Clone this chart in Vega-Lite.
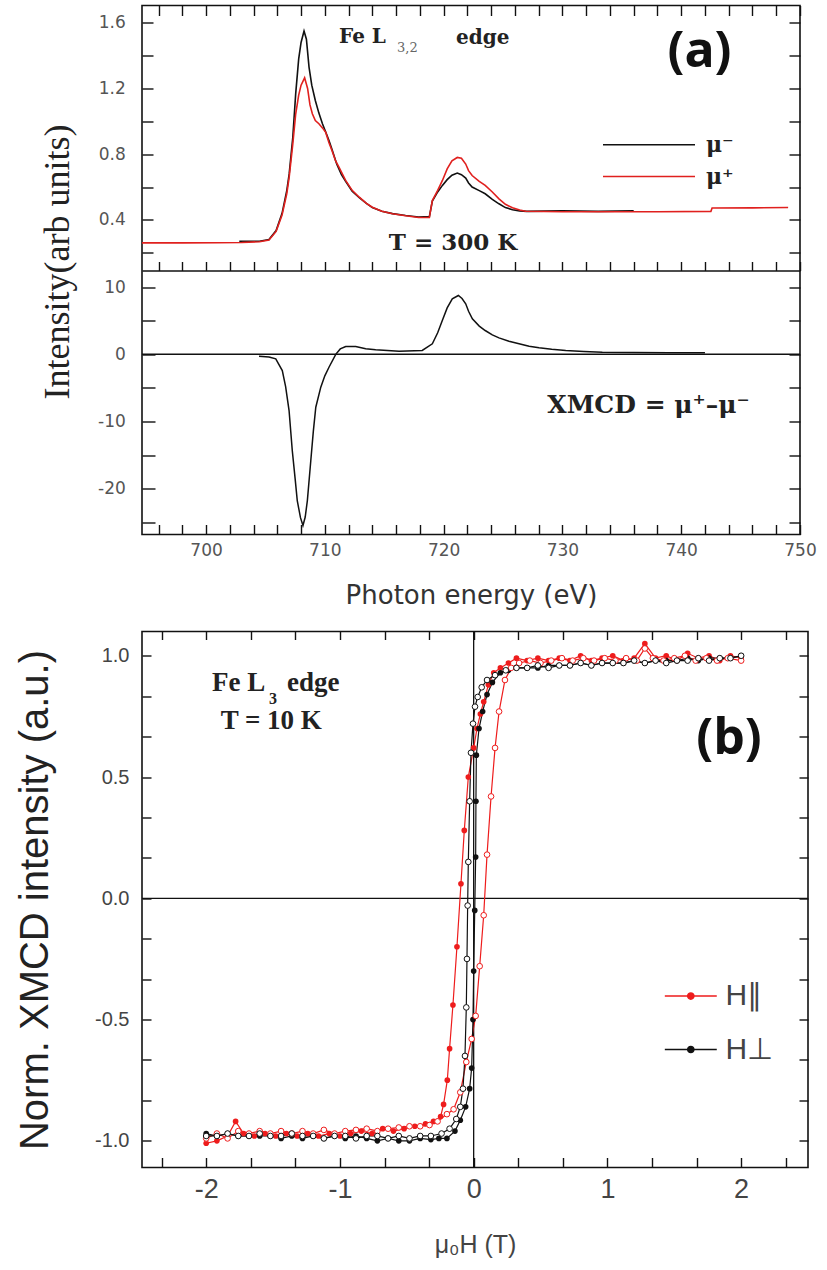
{
  "$schema": "https://vega.github.io/schema/vega-lite/v6.json",
  "background": "white",
  "padding": {"left": 14, "top": 3.5, "right": 2, "bottom": 2},
  "bounds": "flush",
  "spacing": 97,
  "resolve": {"scale": {"color": "independent"}, "legend": {"color": "independent"}},
  "datasets": {
    "spec": [
      {"E": 702.8, "I": 0.27, "s": "μ⁻"}, {"E": 704.5, "I": 0.27, "s": "μ⁻"}, {"E": 705.3, "I": 0.28, "s": "μ⁻"},
      {"E": 705.9, "I": 0.335, "s": "μ⁻"}, {"E": 706.4, "I": 0.44, "s": "μ⁻"}, {"E": 706.8, "I": 0.58, "s": "μ⁻"},
      {"E": 707.0, "I": 0.68, "s": "μ⁻"}, {"E": 707.3, "I": 0.9, "s": "μ⁻"}, {"E": 707.55, "I": 1.17, "s": "μ⁻"},
      {"E": 707.8, "I": 1.38, "s": "μ⁻"}, {"E": 708.0, "I": 1.48, "s": "μ⁻"}, {"E": 708.25, "I": 1.55, "s": "μ⁻"},
      {"E": 708.45, "I": 1.5, "s": "μ⁻"}, {"E": 708.67, "I": 1.33, "s": "μ⁻"}, {"E": 708.9, "I": 1.22, "s": "μ⁻"},
      {"E": 709.2, "I": 1.127, "s": "μ⁻"}, {"E": 709.5, "I": 1.05, "s": "μ⁻"}, {"E": 709.8, "I": 0.985, "s": "μ⁻"},
      {"E": 710.1, "I": 0.93, "s": "μ⁻"}, {"E": 710.35, "I": 0.883, "s": "μ⁻"}, {"E": 710.6, "I": 0.83, "s": "μ⁻"},
      {"E": 711.0, "I": 0.74, "s": "μ⁻"}, {"E": 711.4, "I": 0.675, "s": "μ⁻"}, {"E": 711.75, "I": 0.635, "s": "μ⁻"},
      {"E": 712.3, "I": 0.575, "s": "μ⁻"}, {"E": 712.9, "I": 0.535, "s": "μ⁻"}, {"E": 713.5, "I": 0.5, "s": "μ⁻"},
      {"E": 714.0, "I": 0.475, "s": "μ⁻"}, {"E": 714.8, "I": 0.452, "s": "μ⁻"}, {"E": 715.7, "I": 0.438, "s": "μ⁻"},
      {"E": 716.8, "I": 0.427, "s": "μ⁻"}, {"E": 717.9, "I": 0.418, "s": "μ⁻"}, {"E": 718.8, "I": 0.42, "s": "μ⁻"},
      {"E": 719.05, "I": 0.515, "s": "μ⁻"}, {"E": 719.5, "I": 0.57, "s": "μ⁻"}, {"E": 719.9, "I": 0.61, "s": "μ⁻"},
      {"E": 720.3, "I": 0.645, "s": "μ⁻"}, {"E": 720.7, "I": 0.672, "s": "μ⁻"}, {"E": 721.15, "I": 0.685, "s": "μ⁻"},
      {"E": 721.5, "I": 0.675, "s": "μ⁻"}, {"E": 721.86, "I": 0.655, "s": "μ⁻"}, {"E": 722.1, "I": 0.625, "s": "μ⁻"},
      {"E": 722.4, "I": 0.6, "s": "μ⁻"}, {"E": 723.0, "I": 0.578, "s": "μ⁻"}, {"E": 723.5, "I": 0.559, "s": "μ⁻"},
      {"E": 724.1, "I": 0.525, "s": "μ⁻"}, {"E": 724.66, "I": 0.498, "s": "μ⁻"}, {"E": 725.2, "I": 0.475, "s": "μ⁻"},
      {"E": 725.8, "I": 0.462, "s": "μ⁻"}, {"E": 726.4, "I": 0.455, "s": "μ⁻"}, {"E": 727.0, "I": 0.452, "s": "μ⁻"},
      {"E": 730.0, "I": 0.455, "s": "μ⁻"}, {"E": 733.0, "I": 0.452, "s": "μ⁻"}, {"E": 736.0, "I": 0.455, "s": "μ⁻"},
      {"E": 694.61, "I": 0.26, "s": "μ⁺"}, {"E": 698.0, "I": 0.26, "s": "μ⁺"}, {"E": 701.0, "I": 0.261, "s": "μ⁺"},
      {"E": 703.0, "I": 0.262, "s": "μ⁺"}, {"E": 704.5, "I": 0.267, "s": "μ⁺"}, {"E": 705.3, "I": 0.277, "s": "μ⁺"},
      {"E": 705.9, "I": 0.33, "s": "μ⁺"}, {"E": 706.4, "I": 0.43, "s": "μ⁺"}, {"E": 706.8, "I": 0.56, "s": "μ⁺"},
      {"E": 707.0, "I": 0.66, "s": "μ⁺"}, {"E": 707.3, "I": 0.86, "s": "μ⁺"}, {"E": 707.55, "I": 1.046, "s": "μ⁺"},
      {"E": 707.8, "I": 1.16, "s": "μ⁺"}, {"E": 708.0, "I": 1.22, "s": "μ⁺"}, {"E": 708.3, "I": 1.265, "s": "μ⁺"},
      {"E": 708.55, "I": 1.2, "s": "μ⁺"}, {"E": 708.75, "I": 1.1, "s": "μ⁺"}, {"E": 708.95, "I": 1.046, "s": "μ⁺"},
      {"E": 709.2, "I": 1.005, "s": "μ⁺"}, {"E": 709.5, "I": 0.985, "s": "μ⁺"}, {"E": 709.8, "I": 0.96, "s": "μ⁺"},
      {"E": 710.07, "I": 0.934, "s": "μ⁺"}, {"E": 710.35, "I": 0.87, "s": "μ⁺"}, {"E": 710.6, "I": 0.822, "s": "μ⁺"},
      {"E": 710.9, "I": 0.76, "s": "μ⁺"}, {"E": 711.2, "I": 0.72, "s": "μ⁺"}, {"E": 711.75, "I": 0.64, "s": "μ⁺"},
      {"E": 712.3, "I": 0.58, "s": "μ⁺"}, {"E": 712.9, "I": 0.538, "s": "μ⁺"}, {"E": 713.5, "I": 0.5, "s": "μ⁺"},
      {"E": 714.0, "I": 0.477, "s": "μ⁺"}, {"E": 714.8, "I": 0.452, "s": "μ⁺"}, {"E": 715.7, "I": 0.437, "s": "μ⁺"},
      {"E": 716.8, "I": 0.425, "s": "μ⁺"}, {"E": 717.9, "I": 0.415, "s": "μ⁺"}, {"E": 718.8, "I": 0.415, "s": "μ⁺"},
      {"E": 719.05, "I": 0.518, "s": "μ⁺"}, {"E": 719.5, "I": 0.58, "s": "μ⁺"}, {"E": 719.9, "I": 0.64, "s": "μ⁺"},
      {"E": 720.3, "I": 0.71, "s": "μ⁺"}, {"E": 720.7, "I": 0.76, "s": "μ⁺"}, {"E": 721.15, "I": 0.78, "s": "μ⁺"},
      {"E": 721.5, "I": 0.775, "s": "μ⁺"}, {"E": 721.86, "I": 0.74, "s": "μ⁺"}, {"E": 722.1, "I": 0.7, "s": "μ⁺"},
      {"E": 722.4, "I": 0.67, "s": "μ⁺"}, {"E": 723.0, "I": 0.635, "s": "μ⁺"}, {"E": 723.5, "I": 0.61, "s": "μ⁺"},
      {"E": 724.1, "I": 0.57, "s": "μ⁺"}, {"E": 724.66, "I": 0.528, "s": "μ⁺"}, {"E": 725.2, "I": 0.495, "s": "μ⁺"},
      {"E": 725.8, "I": 0.474, "s": "μ⁺"}, {"E": 726.4, "I": 0.46, "s": "μ⁺"}, {"E": 726.9, "I": 0.453, "s": "μ⁺"},
      {"E": 730.0, "I": 0.45, "s": "μ⁺"}, {"E": 734.0, "I": 0.45, "s": "μ⁺"}, {"E": 738.0, "I": 0.45, "s": "μ⁺"},
      {"E": 742.5, "I": 0.452, "s": "μ⁺"}, {"E": 742.6, "I": 0.472, "s": "μ⁺"}, {"E": 746.0, "I": 0.473, "s": "μ⁺"},
      {"E": 749.0, "I": 0.475, "s": "μ⁺"}
    ],
    "xmcd": [
      {"E": 704.46, "X": -0.28}, {"E": 705.3, "X": -0.4}, {"E": 705.87, "X": -0.67}, {"E": 706.42, "X": -2.41},
      {"E": 706.7, "X": -4.8}, {"E": 706.99, "X": -8.36}, {"E": 707.26, "X": -14.31}, {"E": 707.5, "X": -18.5},
      {"E": 707.68, "X": -21.75}, {"E": 707.95, "X": -24.3}, {"E": 708.16, "X": -25.47}, {"E": 708.35, "X": -24.2},
      {"E": 708.53, "X": -21.75}, {"E": 708.82, "X": -15.8}, {"E": 709.03, "X": -11.5}, {"E": 709.24, "X": -7.87},
      {"E": 709.66, "X": -4.89}, {"E": 710.0, "X": -3.2}, {"E": 710.35, "X": -1.92}, {"E": 710.92, "X": 0.0},
      {"E": 711.3, "X": 0.8}, {"E": 711.76, "X": 1.16}, {"E": 712.6, "X": 1.16}, {"E": 713.44, "X": 0.82},
      {"E": 714.28, "X": 0.67}, {"E": 716.25, "X": 0.46}, {"E": 718.2, "X": 0.57}, {"E": 719.05, "X": 1.56},
      {"E": 719.5, "X": 3.2}, {"E": 719.89, "X": 5.03}, {"E": 720.3, "X": 6.9}, {"E": 720.73, "X": 8.26},
      {"E": 721.24, "X": 8.75}, {"E": 721.55, "X": 8.3}, {"E": 721.86, "X": 7.51}, {"E": 722.1, "X": 6.4},
      {"E": 722.42, "X": 5.28}, {"E": 723.0, "X": 4.2}, {"E": 723.5, "X": 3.54}, {"E": 724.1, "X": 2.9},
      {"E": 724.66, "X": 2.45}, {"E": 725.5, "X": 1.95}, {"E": 726.35, "X": 1.56}, {"E": 727.2, "X": 1.2},
      {"E": 728.03, "X": 0.97}, {"E": 729.1, "X": 0.75}, {"E": 730.28, "X": 0.57}, {"E": 731.8, "X": 0.42},
      {"E": 733.36, "X": 0.31}, {"E": 736.0, "X": 0.26}, {"E": 739.0, "X": 0.23}, {"E": 742.0, "X": 0.22}
    ],
    "loop": [
      {"h": 2.0, "m": 0.99, "s": "H∥", "b": "d"}, {"h": 1.92, "m": 1.0, "s": "H∥", "b": "d"}, {"h": 1.84, "m": 0.98, "s": "H∥", "b": "d"},
      {"h": 1.76, "m": 1.0, "s": "H∥", "b": "d"}, {"h": 1.68, "m": 0.99, "s": "H∥", "b": "d"}, {"h": 1.6, "m": 1.01, "s": "H∥", "b": "d"},
      {"h": 1.52, "m": 0.98, "s": "H∥", "b": "d"}, {"h": 1.44, "m": 1.0, "s": "H∥", "b": "d"}, {"h": 1.36, "m": 0.99, "s": "H∥", "b": "d"},
      {"h": 1.28, "m": 1.05, "s": "H∥", "b": "d"}, {"h": 1.2, "m": 0.99, "s": "H∥", "b": "d"}, {"h": 1.12, "m": 0.98, "s": "H∥", "b": "d"},
      {"h": 1.04, "m": 1.0, "s": "H∥", "b": "d"}, {"h": 0.96, "m": 0.99, "s": "H∥", "b": "d"}, {"h": 0.88, "m": 0.98, "s": "H∥", "b": "d"},
      {"h": 0.8, "m": 1.0, "s": "H∥", "b": "d"}, {"h": 0.72, "m": 0.98, "s": "H∥", "b": "d"}, {"h": 0.64, "m": 0.99, "s": "H∥", "b": "d"},
      {"h": 0.56, "m": 0.98, "s": "H∥", "b": "d"}, {"h": 0.48, "m": 0.99, "s": "H∥", "b": "d"}, {"h": 0.4, "m": 0.98, "s": "H∥", "b": "d"},
      {"h": 0.32, "m": 0.99, "s": "H∥", "b": "d"}, {"h": 0.26, "m": 0.97, "s": "H∥", "b": "d"}, {"h": 0.2, "m": 0.95, "s": "H∥", "b": "d"},
      {"h": 0.15, "m": 0.93, "s": "H∥", "b": "d"}, {"h": 0.11, "m": 0.88, "s": "H∥", "b": "d"}, {"h": 0.075, "m": 0.81, "s": "H∥", "b": "d"},
      {"h": 0.05, "m": 0.76, "s": "H∥", "b": "d"}, {"h": 0.025, "m": 0.7, "s": "H∥", "b": "d"}, {"h": 0.0, "m": 0.62, "s": "H∥", "b": "d"},
      {"h": -0.04, "m": 0.5, "s": "H∥", "b": "d"}, {"h": -0.07, "m": 0.28, "s": "H∥", "b": "d"}, {"h": -0.095, "m": 0.06, "s": "H∥", "b": "d"},
      {"h": -0.125, "m": -0.2, "s": "H∥", "b": "d"}, {"h": -0.155, "m": -0.44, "s": "H∥", "b": "d"}, {"h": -0.18, "m": -0.62, "s": "H∥", "b": "d"},
      {"h": -0.197, "m": -0.75, "s": "H∥", "b": "d"}, {"h": -0.225, "m": -0.85, "s": "H∥", "b": "d"}, {"h": -0.247, "m": -0.9, "s": "H∥", "b": "d"},
      {"h": -0.3, "m": -0.92, "s": "H∥", "b": "d"}, {"h": -0.36, "m": -0.93, "s": "H∥", "b": "d"}, {"h": -0.44, "m": -0.94, "s": "H∥", "b": "d"},
      {"h": -0.52, "m": -0.95, "s": "H∥", "b": "d"}, {"h": -0.6, "m": -0.96, "s": "H∥", "b": "d"}, {"h": -0.68, "m": -0.95, "s": "H∥", "b": "d"},
      {"h": -0.76, "m": -0.97, "s": "H∥", "b": "d"}, {"h": -0.84, "m": -0.96, "s": "H∥", "b": "d"}, {"h": -0.92, "m": -0.97, "s": "H∥", "b": "d"},
      {"h": -1.0, "m": -0.98, "s": "H∥", "b": "d"}, {"h": -1.08, "m": -0.97, "s": "H∥", "b": "d"}, {"h": -1.16, "m": -0.98, "s": "H∥", "b": "d"},
      {"h": -1.24, "m": -0.97, "s": "H∥", "b": "d"}, {"h": -1.32, "m": -0.98, "s": "H∥", "b": "d"}, {"h": -1.4, "m": -0.97, "s": "H∥", "b": "d"},
      {"h": -1.48, "m": -0.98, "s": "H∥", "b": "d"}, {"h": -1.56, "m": -0.97, "s": "H∥", "b": "d"}, {"h": -1.64, "m": -0.98, "s": "H∥", "b": "d"},
      {"h": -1.72, "m": -0.97, "s": "H∥", "b": "d"}, {"h": -1.78, "m": -0.92, "s": "H∥", "b": "d"}, {"h": -1.84, "m": -0.98, "s": "H∥", "b": "d"},
      {"h": -1.92, "m": -1.0, "s": "H∥", "b": "d"}, {"h": -2.0, "m": -1.01, "s": "H∥", "b": "d"},
      {"h": -2.0, "m": -0.99, "s": "H∥", "b": "u"}, {"h": -1.92, "m": -0.97, "s": "H∥", "b": "u"}, {"h": -1.84, "m": -0.99, "s": "H∥", "b": "u"},
      {"h": -1.76, "m": -0.96, "s": "H∥", "b": "u"}, {"h": -1.68, "m": -0.97, "s": "H∥", "b": "u"}, {"h": -1.6, "m": -0.96, "s": "H∥", "b": "u"},
      {"h": -1.52, "m": -0.97, "s": "H∥", "b": "u"}, {"h": -1.44, "m": -0.96, "s": "H∥", "b": "u"}, {"h": -1.36, "m": -0.97, "s": "H∥", "b": "u"},
      {"h": -1.28, "m": -0.96, "s": "H∥", "b": "u"}, {"h": -1.2, "m": -0.97, "s": "H∥", "b": "u"}, {"h": -1.12, "m": -0.955, "s": "H∥", "b": "u"},
      {"h": -1.04, "m": -0.97, "s": "H∥", "b": "u"}, {"h": -0.96, "m": -0.96, "s": "H∥", "b": "u"}, {"h": -0.88, "m": -0.955, "s": "H∥", "b": "u"},
      {"h": -0.8, "m": -0.95, "s": "H∥", "b": "u"}, {"h": -0.72, "m": -0.96, "s": "H∥", "b": "u"}, {"h": -0.64, "m": -0.95, "s": "H∥", "b": "u"},
      {"h": -0.56, "m": -0.945, "s": "H∥", "b": "u"}, {"h": -0.48, "m": -0.94, "s": "H∥", "b": "u"}, {"h": -0.4, "m": -0.94, "s": "H∥", "b": "u"},
      {"h": -0.33, "m": -0.935, "s": "H∥", "b": "u"}, {"h": -0.27, "m": -0.92, "s": "H∥", "b": "u"}, {"h": -0.2, "m": -0.89, "s": "H∥", "b": "u"},
      {"h": -0.15, "m": -0.87, "s": "H∥", "b": "u"}, {"h": -0.1, "m": -0.8, "s": "H∥", "b": "u"}, {"h": -0.055, "m": -0.675, "s": "H∥", "b": "u"},
      {"h": -0.015, "m": -0.58, "s": "H∥", "b": "u"}, {"h": 0.015, "m": -0.485, "s": "H∥", "b": "u"}, {"h": 0.045, "m": -0.28, "s": "H∥", "b": "u"},
      {"h": 0.075, "m": -0.07, "s": "H∥", "b": "u"}, {"h": 0.1, "m": 0.18, "s": "H∥", "b": "u"}, {"h": 0.13, "m": 0.42, "s": "H∥", "b": "u"},
      {"h": 0.16, "m": 0.62, "s": "H∥", "b": "u"}, {"h": 0.19, "m": 0.77, "s": "H∥", "b": "u"}, {"h": 0.234, "m": 0.9, "s": "H∥", "b": "u"},
      {"h": 0.28, "m": 0.95, "s": "H∥", "b": "u"}, {"h": 0.34, "m": 0.97, "s": "H∥", "b": "u"}, {"h": 0.42, "m": 0.98, "s": "H∥", "b": "u"},
      {"h": 0.5, "m": 0.97, "s": "H∥", "b": "u"}, {"h": 0.58, "m": 0.98, "s": "H∥", "b": "u"}, {"h": 0.66, "m": 0.99, "s": "H∥", "b": "u"},
      {"h": 0.74, "m": 0.98, "s": "H∥", "b": "u"}, {"h": 0.82, "m": 0.99, "s": "H∥", "b": "u"}, {"h": 0.9, "m": 0.98, "s": "H∥", "b": "u"},
      {"h": 0.98, "m": 0.99, "s": "H∥", "b": "u"}, {"h": 1.06, "m": 0.98, "s": "H∥", "b": "u"}, {"h": 1.14, "m": 0.99, "s": "H∥", "b": "u"},
      {"h": 1.22, "m": 0.98, "s": "H∥", "b": "u"}, {"h": 1.28, "m": 1.03, "s": "H∥", "b": "u"}, {"h": 1.34, "m": 0.99, "s": "H∥", "b": "u"},
      {"h": 1.42, "m": 0.98, "s": "H∥", "b": "u"}, {"h": 1.5, "m": 0.99, "s": "H∥", "b": "u"}, {"h": 1.58, "m": 1.0, "s": "H∥", "b": "u"},
      {"h": 1.66, "m": 0.98, "s": "H∥", "b": "u"}, {"h": 1.74, "m": 0.99, "s": "H∥", "b": "u"}, {"h": 1.82, "m": 0.98, "s": "H∥", "b": "u"},
      {"h": 1.9, "m": 0.99, "s": "H∥", "b": "u"}, {"h": 2.0, "m": 0.98, "s": "H∥", "b": "u"},
      {"h": 2.0, "m": 1.0, "s": "H⊥", "b": "d"}, {"h": 1.92, "m": 0.99, "s": "H⊥", "b": "d"}, {"h": 1.84, "m": 0.99, "s": "H⊥", "b": "d"},
      {"h": 1.76, "m": 0.98, "s": "H⊥", "b": "d"}, {"h": 1.68, "m": 0.99, "s": "H⊥", "b": "d"}, {"h": 1.6, "m": 0.98, "s": "H⊥", "b": "d"},
      {"h": 1.52, "m": 0.98, "s": "H⊥", "b": "d"}, {"h": 1.44, "m": 0.97, "s": "H⊥", "b": "d"}, {"h": 1.36, "m": 0.98, "s": "H⊥", "b": "d"},
      {"h": 1.28, "m": 0.97, "s": "H⊥", "b": "d"}, {"h": 1.2, "m": 0.98, "s": "H⊥", "b": "d"}, {"h": 1.12, "m": 0.97, "s": "H⊥", "b": "d"},
      {"h": 1.04, "m": 0.97, "s": "H⊥", "b": "d"}, {"h": 0.96, "m": 0.97, "s": "H⊥", "b": "d"}, {"h": 0.88, "m": 0.96, "s": "H⊥", "b": "d"},
      {"h": 0.8, "m": 0.97, "s": "H⊥", "b": "d"}, {"h": 0.72, "m": 0.96, "s": "H⊥", "b": "d"}, {"h": 0.64, "m": 0.96, "s": "H⊥", "b": "d"},
      {"h": 0.56, "m": 0.95, "s": "H⊥", "b": "d"}, {"h": 0.48, "m": 0.96, "s": "H⊥", "b": "d"}, {"h": 0.4, "m": 0.95, "s": "H⊥", "b": "d"},
      {"h": 0.32, "m": 0.95, "s": "H⊥", "b": "d"}, {"h": 0.24, "m": 0.94, "s": "H⊥", "b": "d"}, {"h": 0.16, "m": 0.92, "s": "H⊥", "b": "d"},
      {"h": 0.1, "m": 0.9, "s": "H⊥", "b": "d"}, {"h": 0.06, "m": 0.87, "s": "H⊥", "b": "d"}, {"h": 0.03, "m": 0.83, "s": "H⊥", "b": "d"},
      {"h": 0.01, "m": 0.79, "s": "H⊥", "b": "d"}, {"h": -0.005, "m": 0.72, "s": "H⊥", "b": "d"}, {"h": -0.02, "m": 0.6, "s": "H⊥", "b": "d"},
      {"h": -0.03, "m": 0.4, "s": "H⊥", "b": "d"}, {"h": -0.04, "m": 0.15, "s": "H⊥", "b": "d"}, {"h": -0.045, "m": -0.03, "s": "H⊥", "b": "d"},
      {"h": -0.05, "m": -0.25, "s": "H⊥", "b": "d"}, {"h": -0.055, "m": -0.45, "s": "H⊥", "b": "d"}, {"h": -0.065, "m": -0.65, "s": "H⊥", "b": "d"},
      {"h": -0.08, "m": -0.785, "s": "H⊥", "b": "d"}, {"h": -0.1, "m": -0.86, "s": "H⊥", "b": "d"}, {"h": -0.13, "m": -0.91, "s": "H⊥", "b": "d"},
      {"h": -0.18, "m": -0.95, "s": "H⊥", "b": "d"}, {"h": -0.24, "m": -0.97, "s": "H⊥", "b": "d"}, {"h": -0.32, "m": -0.98, "s": "H⊥", "b": "d"},
      {"h": -0.4, "m": -0.98, "s": "H⊥", "b": "d"}, {"h": -0.48, "m": -0.99, "s": "H⊥", "b": "d"}, {"h": -0.56, "m": -0.98, "s": "H⊥", "b": "d"},
      {"h": -0.64, "m": -0.99, "s": "H⊥", "b": "d"}, {"h": -0.72, "m": -0.98, "s": "H⊥", "b": "d"}, {"h": -0.8, "m": -0.98, "s": "H⊥", "b": "d"},
      {"h": -0.88, "m": -0.99, "s": "H⊥", "b": "d"}, {"h": -0.96, "m": -0.98, "s": "H⊥", "b": "d"}, {"h": -1.04, "m": -0.98, "s": "H⊥", "b": "d"},
      {"h": -1.12, "m": -0.99, "s": "H⊥", "b": "d"}, {"h": -1.2, "m": -0.98, "s": "H⊥", "b": "d"}, {"h": -1.28, "m": -0.98, "s": "H⊥", "b": "d"},
      {"h": -1.36, "m": -0.97, "s": "H⊥", "b": "d"}, {"h": -1.44, "m": -0.98, "s": "H⊥", "b": "d"}, {"h": -1.52, "m": -0.98, "s": "H⊥", "b": "d"},
      {"h": -1.6, "m": -0.97, "s": "H⊥", "b": "d"}, {"h": -1.68, "m": -0.98, "s": "H⊥", "b": "d"}, {"h": -1.76, "m": -0.98, "s": "H⊥", "b": "d"},
      {"h": -1.84, "m": -0.97, "s": "H⊥", "b": "d"}, {"h": -1.92, "m": -0.98, "s": "H⊥", "b": "d"}, {"h": -2.0, "m": -0.98, "s": "H⊥", "b": "d"},
      {"h": -2.0, "m": -0.97, "s": "H⊥", "b": "u"}, {"h": -1.92, "m": -0.98, "s": "H⊥", "b": "u"}, {"h": -1.84, "m": -0.97, "s": "H⊥", "b": "u"},
      {"h": -1.76, "m": -0.98, "s": "H⊥", "b": "u"}, {"h": -1.68, "m": -0.98, "s": "H⊥", "b": "u"}, {"h": -1.6, "m": -0.98, "s": "H⊥", "b": "u"},
      {"h": -1.52, "m": -0.98, "s": "H⊥", "b": "u"}, {"h": -1.44, "m": -0.99, "s": "H⊥", "b": "u"}, {"h": -1.36, "m": -0.98, "s": "H⊥", "b": "u"},
      {"h": -1.28, "m": -0.99, "s": "H⊥", "b": "u"}, {"h": -1.2, "m": -0.98, "s": "H⊥", "b": "u"}, {"h": -1.12, "m": -0.99, "s": "H⊥", "b": "u"},
      {"h": -1.04, "m": -0.98, "s": "H⊥", "b": "u"}, {"h": -0.96, "m": -0.99, "s": "H⊥", "b": "u"}, {"h": -0.88, "m": -0.98, "s": "H⊥", "b": "u"},
      {"h": -0.8, "m": -0.99, "s": "H⊥", "b": "u"}, {"h": -0.72, "m": -1.0, "s": "H⊥", "b": "u"}, {"h": -0.64, "m": -0.99, "s": "H⊥", "b": "u"},
      {"h": -0.56, "m": -1.0, "s": "H⊥", "b": "u"}, {"h": -0.48, "m": -1.0, "s": "H⊥", "b": "u"}, {"h": -0.4, "m": -0.99, "s": "H⊥", "b": "u"},
      {"h": -0.32, "m": -0.995, "s": "H⊥", "b": "u"}, {"h": -0.26, "m": -0.99, "s": "H⊥", "b": "u"}, {"h": -0.2, "m": -0.99, "s": "H⊥", "b": "u"},
      {"h": -0.14, "m": -0.96, "s": "H⊥", "b": "u"}, {"h": -0.1, "m": -0.915, "s": "H⊥", "b": "u"}, {"h": -0.06, "m": -0.86, "s": "H⊥", "b": "u"},
      {"h": -0.03, "m": -0.785, "s": "H⊥", "b": "u"}, {"h": -0.015, "m": -0.7, "s": "H⊥", "b": "u"}, {"h": -0.005, "m": -0.5, "s": "H⊥", "b": "u"},
      {"h": 0.0, "m": -0.3, "s": "H⊥", "b": "u"}, {"h": 0.008, "m": -0.05, "s": "H⊥", "b": "u"}, {"h": 0.015, "m": 0.17, "s": "H⊥", "b": "u"},
      {"h": 0.017, "m": 0.4, "s": "H⊥", "b": "u"}, {"h": 0.02, "m": 0.59, "s": "H⊥", "b": "u"}, {"h": 0.04, "m": 0.7, "s": "H⊥", "b": "u"},
      {"h": 0.067, "m": 0.77, "s": "H⊥", "b": "u"}, {"h": 0.1, "m": 0.84, "s": "H⊥", "b": "u"}, {"h": 0.14, "m": 0.89, "s": "H⊥", "b": "u"},
      {"h": 0.2, "m": 0.93, "s": "H⊥", "b": "u"}, {"h": 0.26, "m": 0.94, "s": "H⊥", "b": "u"}, {"h": 0.32, "m": 0.95, "s": "H⊥", "b": "u"},
      {"h": 0.4, "m": 0.95, "s": "H⊥", "b": "u"}, {"h": 0.48, "m": 0.95, "s": "H⊥", "b": "u"}, {"h": 0.56, "m": 0.96, "s": "H⊥", "b": "u"},
      {"h": 0.64, "m": 0.96, "s": "H⊥", "b": "u"}, {"h": 0.72, "m": 0.96, "s": "H⊥", "b": "u"}, {"h": 0.8, "m": 0.97, "s": "H⊥", "b": "u"},
      {"h": 0.88, "m": 0.96, "s": "H⊥", "b": "u"}, {"h": 0.96, "m": 0.97, "s": "H⊥", "b": "u"}, {"h": 1.04, "m": 0.97, "s": "H⊥", "b": "u"},
      {"h": 1.12, "m": 0.97, "s": "H⊥", "b": "u"}, {"h": 1.2, "m": 0.98, "s": "H⊥", "b": "u"}, {"h": 1.28, "m": 0.97, "s": "H⊥", "b": "u"},
      {"h": 1.36, "m": 0.98, "s": "H⊥", "b": "u"}, {"h": 1.44, "m": 0.98, "s": "H⊥", "b": "u"}, {"h": 1.52, "m": 0.98, "s": "H⊥", "b": "u"},
      {"h": 1.6, "m": 0.99, "s": "H⊥", "b": "u"}, {"h": 1.68, "m": 0.98, "s": "H⊥", "b": "u"}, {"h": 1.76, "m": 0.99, "s": "H⊥", "b": "u"},
      {"h": 1.84, "m": 0.99, "s": "H⊥", "b": "u"}, {"h": 1.92, "m": 0.99, "s": "H⊥", "b": "u"}, {"h": 2.0, "m": 1.0, "s": "H⊥", "b": "u"}
    ]
  },
  "vconcat": [
    {
      "width": 658,
      "height": 529,
      "layer": [
        {
          "layer": [
            {
              "data": {"name": "spec"},
              "mark": {"type": "line", "strokeWidth": 1.6},
              "encoding": {
                "x": {"field": "E", "type": "quantitative",
                  "scale": {"domain": [694.61, 750], "nice": false, "zero": false},
                  "axis": {"orient": "bottom",
                    "values": [696,698,700,702,704,706,708,710,712,714,716,718,720,722,724,726,728,730,732,734,736,738,740,742,744,746,748,750],
                    "format": "d", "labelExpr": "datum.value % 10 === 0 ? datum.label : ''",
                    "tickSize": -10,
                    "encode": {"ticks": {"update": {"y2": {"signal": "datum.value % 10 === 0 ? -9 : -5"}}}},
                    "labelFont": "DejaVu Sans", "labelFontSize": 17, "labelPadding": 18, "labelColor": "#555",
                    "title": "Photon energy (eV)", "titleFont": "DejaVu Sans", "titleFontSize": 26, "titleFontWeight": "normal", "titleColor": "#333", "titlePadding": 24}},
                "y": {"field": "I", "type": "quantitative",
                  "scale": {"domain": [-1.515, 1.705], "nice": false, "zero": false},
                  "axis": {"orient": "left",
                    "values": [0.2,0.4,0.6,0.8,1.0,1.2,1.4,1.6],
                    "format": ".1f", "labelExpr": "abs(datum.value/0.4-round(datum.value/0.4)) < 0.01 ? datum.label : ''",
                    "tickSize": -11,
                    "encode": {"ticks": {"update": {"x2": {"signal": "abs(datum.value/0.4-round(datum.value/0.4)) < 0.01 ? 11 : 6"}}}},
                    "labelFont": "DejaVu Sans", "labelFontSize": 17, "labelPadding": 27.7, "labelColor": "#555",
                    "title": "Intensity(arb units)", "titleFont": "Liberation Serif", "titleFontSize": 36, "titleFontWeight": "normal", "titleColor": "#222", "titlePadding": 22, "titleY": 256}},
                "color": {"field": "s", "type": "nominal",
                  "scale": {"domain": ["μ⁻", "μ⁺"], "range": ["#111111", "#e0201e"]},
                  "legend": {"title": null, "orient": "none", "legendX": 494.5, "legendY": 126.8, "padding": 0,
                    "symbolType": "M-4 0H4", "symbolSize": 529, "symbolStrokeWidth": 1.6,
                    "labelFont": "DejaVu Serif", "labelFontSize": 22, "labelFontWeight": "bold", "labelColor": "#222",
                    "labelOffset": 44.5, "rowPadding": 7.7}}
              }
            },
            {
              "data": {"values": [{}]},
              "mark": {"type": "text", "text": "Fe L", "font": "DejaVu Serif", "fontWeight": "bold", "fontSize": 20, "align": "left", "baseline": "alphabetic", "color": "#222"},
              "encoding": {
                "x": {"datum": 711.2, "type": "quantitative",
                  "axis": {"orient": "top", "title": null, "labels": false,
                    "values": [696,698,700,702,704,706,708,710,712,714,716,718,720,722,724,726,728,730,732,734,736,738,740,742,744,746,748,750],
                    "tickSize": -10,
                    "encode": {"ticks": {"update": {"y2": {"signal": "datum.value % 10 === 0 ? 10 : 6"}}}}}},
                "y": {"datum": 1.474, "type": "quantitative",
                  "axis": {"orient": "right", "title": null, "labels": false,
                    "values": [0.2,0.4,0.6,0.8,1.0,1.2,1.4,1.6],
                    "tickSize": -11,
                    "encode": {"ticks": {"update": {"x2": {"signal": "abs(datum.value/0.4-round(datum.value/0.4)) < 0.01 ? -11 : -6"}}}}}}
              }
            },
            {
              "data": {"values": [{}]},
              "mark": {"type": "text", "text": "3,2", "font": "DejaVu Serif", "fontSize": 13, "align": "left", "baseline": "alphabetic", "color": "#666"},
              "encoding": {"x": {"datum": 716.08, "type": "quantitative", "axis": null}, "y": {"datum": 1.419, "type": "quantitative", "axis": null}}
            },
            {
              "data": {"values": [{}]},
              "mark": {"type": "text", "text": "edge", "font": "DejaVu Serif", "fontWeight": "bold", "fontSize": 20, "align": "left", "baseline": "alphabetic", "color": "#222"},
              "encoding": {"x": {"datum": 721.04, "type": "quantitative", "axis": null}, "y": {"datum": 1.472, "type": "quantitative", "axis": null}}
            },
            {
              "data": {"values": [{}]},
              "mark": {"type": "text", "text": "(a)", "font": "Open Sans", "fontWeight": "bold", "fontSize": 50, "align": "center", "baseline": "middle", "color": "#111"},
              "encoding": {"x": {"datum": 741.54, "type": "quantitative", "axis": null}, "y": {"datum": 1.419, "type": "quantitative", "axis": null}}
            },
            {
              "data": {"values": [{}]},
              "mark": {"type": "text", "text": "T = 300 K", "font": "DejaVu Serif", "fontWeight": "bold", "fontSize": 23, "align": "center", "baseline": "alphabetic", "color": "#222"},
              "encoding": {
                "x": {"datum": 720.79, "type": "quantitative",
                  "axis": {"orient": "bottom", "offset": -264, "title": null, "labels": false, "domain": true, "domainColor": "#111", "domainWidth": 1.6,
                    "values": [696,698,700,702,704,706,708,710,712,714,716,718,720,722,724,726,728,730,732,734,736,738,740,742,744,746,748,750],
                    "tickSize": -9,
                    "encode": {"ticks": {"update": {"y2": {"signal": "datum.value % 10 === 0 ? -8 : -5"}}}}}},
                "y": {"datum": 0.214, "type": "quantitative", "axis": null}
              }
            }
          ],
          "resolve": {"axis": {"x": "independent", "y": "independent"}}
        },
        {
          "layer": [
            {
              "data": {"values": [{}]},
              "mark": {"type": "rule", "color": "#111", "strokeWidth": 1.4},
              "encoding": {
                "y": {"datum": 0, "type": "quantitative",
                  "axis": {"orient": "right", "title": null, "labels": false,
                    "values": [-25,-20,-15,-10,-5,0,5,10],
                    "tickSize": -11,
                    "encode": {"ticks": {"update": {"x2": {"signal": "datum.value % 10 === 0 ? -11 : -6"}}}}}}
              }
            },
            {
              "data": {"name": "xmcd"},
              "mark": {"type": "line", "strokeWidth": 1.5, "color": "#111"},
              "encoding": {
                "x": {"field": "E", "type": "quantitative", "axis": null},
                "y": {"field": "X", "type": "quantitative",
                  "scale": {"domain": [-26.8, 51.88], "nice": false, "zero": false},
                  "axis": {"orient": "left", "title": null,
                    "values": [-25,-20,-15,-10,-5,0,5,10],
                    "format": "d", "labelExpr": "datum.value % 10 === 0 ? replace(datum.label, '−', '-') : ''",
                    "tickSize": -13,
                    "encode": {"ticks": {"update": {"x2": {"signal": "datum.value % 10 === 0 ? 13 : 7"}}}},
                    "labelFont": "DejaVu Sans", "labelFontSize": 17, "labelPadding": 29.7, "labelColor": "#555"}}
              }
            },
            {
              "data": {"values": [{}]},
              "mark": {"type": "text", "text": "XMCD = μ⁺–μ⁻", "font": "DejaVu Serif", "fontWeight": "bold", "fontSize": 25, "align": "center", "baseline": "alphabetic", "color": "#222"},
              "encoding": {"x": {"datum": 737.25, "type": "quantitative", "axis": null}, "y": {"datum": -8.66, "type": "quantitative", "axis": null}}
            }
          ],
          "resolve": {"axis": {"x": "independent", "y": "independent"}}
        }
      ],
      "resolve": {"scale": {"y": "independent"}, "axis": {"x": "independent", "y": "independent"}}
    },
    {
      "width": 666,
      "height": 536,
      "data": {"name": "loop"},
      "layer": [
        {
          "data": {"values": [{}]},
          "mark": {"type": "rule", "color": "#111", "strokeWidth": 1.3},
          "encoding": {
            "y": {"datum": 0, "type": "quantitative",
              "axis": {"orient": "right", "title": null, "labels": false,
                "values": [-1,-0.8333,-0.6667,-0.5,-0.3333,-0.1667,0,0.1667,0.3333,0.5,0.6667,0.8333,1],
                "tickSize": -9,
                "encode": {"ticks": {"update": {"x2": {"signal": "abs(datum.value*2-round(datum.value*2)) < 0.01 ? -9 : -6"}}}}}}
          }
        },
        {
          "data": {"values": [{}]},
          "mark": {"type": "rule", "color": "#111", "strokeWidth": 1.3},
          "encoding": {
            "x": {"datum": 0, "type": "quantitative",
              "axis": {"orient": "top", "title": null, "labels": false,
                "values": [-2.3333,-2,-1.6667,-1.3333,-1,-0.6667,-0.3333,0,0.3333,0.6667,1,1.3333,1.6667,2,2.3333],
                "tickSize": -8,
                "encode": {"ticks": {"update": {"y2": {"signal": "abs(datum.value-round(datum.value)) < 0.01 ? 8 : 4"}}}}}}
          }
        },
        {
          "mark": {"type": "line", "strokeWidth": 1.2},
          "encoding": {
            "x": {"field": "h", "type": "quantitative",
              "scale": {"domain": [-2.48, 2.5], "nice": false, "zero": false},
              "axis": {"orient": "bottom",
                "values": [-2.3333,-2,-1.6667,-1.3333,-1,-0.6667,-0.3333,0,0.3333,0.6667,1,1.3333,1.6667,2,2.3333],
                "labelExpr": "abs(datum.value-round(datum.value)) < 0.01 ? replace(format(round(datum.value), 'd'), '−', '-') : ''",
                "tickSize": -10,
                "encode": {"ticks": {"update": {"y2": {"signal": "abs(datum.value-round(datum.value)) < 0.01 ? -10 : -5"}}}},
                "labelFont": "Liberation Sans", "labelFontSize": 27, "labelPadding": 19, "labelColor": "#444",
                "title": "μ₀H (T)", "titleFont": "Liberation Sans", "titleFontSize": 25, "titleFontWeight": "normal", "titleColor": "#444", "titlePadding": 30}},
            "y": {"field": "m", "type": "quantitative",
              "scale": {"domain": [-1.11, 1.1], "nice": false, "zero": false},
              "axis": {"orient": "left",
                "values": [-1,-0.8333,-0.6667,-0.5,-0.3333,-0.1667,0,0.1667,0.3333,0.5,0.6667,0.8333,1],
                "labelExpr": "abs(datum.value*2-round(datum.value*2)) < 0.01 ? replace(format(datum.value, '.1f'), '−', '-') : ''",
                "tickSize": -9,
                "encode": {"ticks": {"update": {"x2": {"signal": "abs(datum.value*2-round(datum.value*2)) < 0.01 ? 9 : 5"}}}},
                "labelFont": "Liberation Sans", "labelFontSize": 20, "labelPadding": 22, "labelColor": "#444",
                "title": "Norm. XMCD intensity (a.u.)", "titleFont": "Liberation Sans", "titleFontSize": 40, "titleFontWeight": "normal", "titleColor": "#222", "titlePadding": 39.5}},
            "color": {"field": "s", "type": "nominal",
              "scale": {"domain": ["H∥", "H⊥"], "range": ["#ee1c1c", "#111111"]},
              "legend": {"title": null, "orient": "none", "legendX": 533.8, "legendY": 349.6, "padding": 0,
                "symbolType": "M-5 0H5M0.6 0A0.6 0.6 0 1 1 -0.6 0A0.6 0.6 0 1 1 0.6 0Z", "symbolSize": 108, "symbolStrokeWidth": 1.5,
                "labelFont": "Liberation Sans", "labelFontSize": 30, "labelColor": "#444", "labelOffset": 19.8, "rowPadding": 23.4}},
            "detail": {"field": "b"},
            "order": {"value": null}
          }
        },
        {
          "transform": [{"filter": "datum.s === 'H∥' ? datum.b === 'd' : datum.b === 'u'"}],
          "mark": {"type": "point", "shape": "circle", "filled": true, "size": 32, "opacity": 1},
          "encoding": {
            "x": {"field": "h", "type": "quantitative", "axis": null},
            "y": {"field": "m", "type": "quantitative", "axis": null},
            "color": {"field": "s", "type": "nominal"}
          }
        },
        {
          "transform": [{"filter": "datum.s === 'H∥' ? datum.b === 'u' : datum.b === 'd'"}],
          "mark": {"type": "point", "shape": "circle", "filled": false, "fill": "white", "size": 32, "strokeWidth": 1, "opacity": 1},
          "encoding": {
            "x": {"field": "h", "type": "quantitative", "axis": null},
            "y": {"field": "m", "type": "quantitative", "axis": null},
            "color": {"field": "s", "type": "nominal"}
          }
        },
        {
          "data": {"values": [{}]},
          "mark": {"type": "text", "text": "Fe L", "font": "Liberation Serif", "fontWeight": "bold", "fontSize": 27, "align": "left", "baseline": "alphabetic", "color": "#222"},
          "encoding": {"x": {"datum": -1.957, "type": "quantitative", "axis": null}, "y": {"datum": 0.854, "type": "quantitative", "axis": null}}
        },
        {
          "data": {"values": [{}]},
          "mark": {"type": "text", "text": "3", "font": "Liberation Serif", "fontWeight": "bold", "fontSize": 16, "align": "left", "baseline": "alphabetic", "color": "#222"},
          "encoding": {"x": {"datum": -1.53, "type": "quantitative", "axis": null}, "y": {"datum": 0.8, "type": "quantitative", "axis": null}}
        },
        {
          "data": {"values": [{}]},
          "mark": {"type": "text", "text": "edge", "font": "Liberation Serif", "fontWeight": "bold", "fontSize": 27, "align": "left", "baseline": "alphabetic", "color": "#222"},
          "encoding": {"x": {"datum": -1.396, "type": "quantitative", "axis": null}, "y": {"datum": 0.854, "type": "quantitative", "axis": null}}
        },
        {
          "data": {"values": [{}]},
          "mark": {"type": "text", "text": "T = 10 K", "font": "Liberation Serif", "fontWeight": "bold", "fontSize": 27, "align": "left", "baseline": "alphabetic", "color": "#222"},
          "encoding": {"x": {"datum": -1.892, "type": "quantitative", "axis": null}, "y": {"datum": 0.696, "type": "quantitative", "axis": null}}
        },
        {
          "data": {"values": [{}]},
          "mark": {"type": "text", "text": "(b)", "font": "Open Sans", "fontWeight": "bold", "fontSize": 50, "align": "center", "baseline": "middle", "color": "#111"},
          "encoding": {"x": {"datum": 1.909, "type": "quantitative", "axis": null}, "y": {"datum": 0.658, "type": "quantitative", "axis": null}}
        }
      ],
      "resolve": {"axis": {"x": "independent", "y": "independent"}}
    }
  ],
  "config": {
    "view": {"stroke": "#111", "strokeWidth": 1.6},
    "axis": {"grid": false, "domain": false, "tickColor": "#111", "tickWidth": 1.4, "labelOverlap": false, "labelFlush": false, "labelBound": false},
    "legend": {"labelLimit": 300}
  }
}
